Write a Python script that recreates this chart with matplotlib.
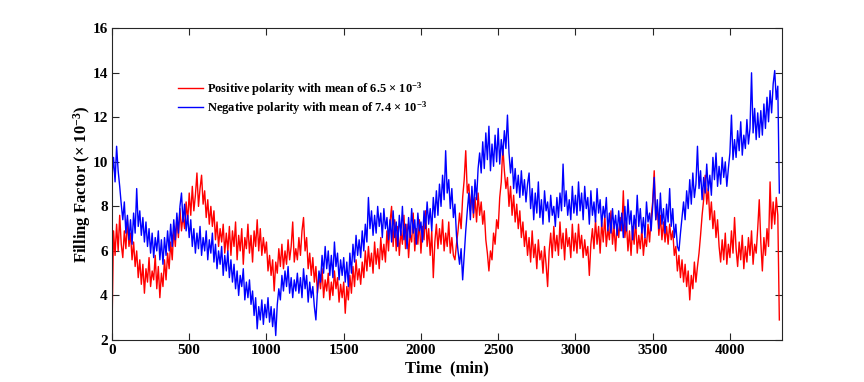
import numpy as np
import matplotlib
matplotlib.use("Agg")
import matplotlib.pyplot as plt

plt.rcParams['font.family'] = ['Liberation Serif', 'DejaVu Serif']
plt.rcParams['font.weight'] = 'bold'
plt.rcParams['mathtext.fontset'] = 'custom'
plt.rcParams['mathtext.rm'] = 'Liberation Serif:bold'
plt.rcParams['mathtext.it'] = 'Liberation Serif:bold'
plt.rcParams['mathtext.bf'] = 'Liberation Serif:bold'

step_min = 10  # sampling interval of the read-off values (min)

positive = [
    2.4, 6.9, 5.8, 7.2, 6.0, 7.6, 6.3, 5.7, 6.9, 6.1, 7.4, 6.2, 6.8, 5.6, 6.4, 5.3, 6.0, 4.8, 5.6, 4.5, 5.4, 4.1, 5.2, 4.6, 5.7, 4.4, 5.1, 4.7, 5.8, 4.3,
    5.3, 3.9, 5.0, 4.4, 5.6, 4.7, 5.9, 5.2, 6.4, 5.6, 7.0, 6.2, 7.5, 6.6, 7.9, 6.9, 7.6, 7.0, 8.2, 7.3, 8.6, 7.6, 8.9, 7.8, 8.5, 9.5, 8.0, 8.8, 9.4, 8.1,
    8.7, 7.5, 8.3, 7.2, 8.0, 7.1, 7.8, 6.5, 7.3, 6.2, 7.0, 6.4, 7.2, 5.9, 6.8, 6.0, 7.1, 5.8, 6.9, 6.2, 7.3, 5.6, 6.7, 6.0, 7.0, 5.4, 6.6, 6.1, 7.2, 5.9,
    6.7, 5.5, 6.9, 6.2, 7.4, 6.0, 7.0, 5.8, 6.6, 5.9, 6.4, 5.1, 5.8, 4.9, 5.6, 4.2, 5.5, 5.0, 6.1, 5.3, 6.3, 5.2, 6.0, 5.4, 6.5, 5.6, 6.2, 7.3, 5.5, 6.1,
    5.6, 6.6, 5.8, 6.9, 7.5, 6.0, 6.6, 5.2, 5.9, 4.9, 5.7, 4.6, 5.3, 4.1, 4.9, 4.3, 5.2, 3.9, 4.7, 4.2, 5.0, 3.8, 4.6, 4.0, 5.1, 4.3, 4.8, 3.7, 4.5, 3.9,
    4.6, 3.2, 4.4, 3.8, 4.9, 4.1, 5.3, 4.4, 5.6, 4.7, 5.2, 4.5, 5.5, 4.8, 6.0, 5.1, 6.2, 5.3, 5.9, 5.0, 6.4, 5.4, 6.1, 5.2, 6.6, 5.6, 6.3, 5.5, 6.9, 6.0,
    7.3, 8.0, 6.2, 7.4, 6.0, 7.1, 5.8, 6.9, 6.3, 7.6, 6.1, 7.2, 5.7, 6.8, 6.4, 7.7, 6.0, 7.0, 6.3, 7.4, 5.9, 7.1, 6.5, 7.8, 6.2, 7.0, 5.8, 6.9, 4.8, 6.4,
    7.2, 6.1, 7.0, 6.3, 7.4, 6.0, 6.8, 6.2, 7.3, 5.9, 6.6, 5.8, 5.6, 6.3, 6.9, 7.7, 7.0, 8.4, 9.2, 10.5, 8.6, 9.0, 7.8, 8.7, 7.5, 8.4, 7.3, 8.6, 7.6, 8.2,
    7.2, 7.8, 6.5, 5.9, 5.1, 6.0, 5.6, 6.8, 6.3, 7.4, 7.0, 8.4, 9.1, 10.7, 9.6, 8.8, 9.3, 8.0, 8.9, 7.6, 8.5, 7.3, 8.1, 7.0, 7.8, 6.6, 7.3, 6.2, 6.9, 5.8,
    6.6, 5.5, 6.9, 5.7, 6.3, 5.2, 6.5, 5.6, 6.0, 5.0, 6.2, 5.4, 4.4, 6.0, 6.8, 5.7, 7.1, 6.0, 6.7, 5.8, 7.3, 6.1, 6.8, 5.6, 7.0, 6.2, 6.6, 5.7, 7.2, 6.0,
    6.8, 5.9, 7.2, 6.1, 6.7, 5.7, 6.5, 5.8, 6.2, 4.9, 6.3, 7.0, 6.1, 7.4, 6.3, 7.1, 5.9, 7.3, 6.4, 7.6, 6.2, 7.0, 6.5, 7.8, 6.3, 7.1, 6.0, 7.2, 6.6, 7.5,
    6.9, 8.7, 6.6, 7.3, 6.0, 6.9, 5.8, 7.1, 6.3, 7.4, 5.9, 6.7, 6.1, 7.0, 5.8, 6.6, 6.2, 7.2, 6.4, 7.5, 8.2, 9.6, 7.4, 8.0, 6.7, 7.6, 6.5, 7.3, 6.4, 7.1,
    6.3, 7.2, 6.5, 6.9, 5.8, 6.2, 5.1, 5.8, 4.8, 5.6, 4.6, 5.4, 4.4, 5.1, 3.8, 4.9, 4.3, 5.5, 4.6, 5.3, 5.9, 6.7, 7.6, 8.3, 9.4, 8.1, 8.8, 7.4, 8.2, 7.0,
    7.8, 6.6, 7.4, 6.2, 5.5, 6.5, 5.6, 6.8, 5.4, 6.3, 5.7, 6.9, 5.9, 7.5, 6.1, 5.3, 6.4, 5.6, 6.7, 5.2, 6.2, 5.5, 6.6, 5.8, 6.9, 5.4, 6.3, 5.9, 7.0, 8.3,
    6.4, 5.1, 6.6, 5.8, 7.0, 6.2, 9.1, 7.0, 8.2, 7.2, 8.4, 7.6, 2.9,
]

negative = [
    9.3, 10.2, 9.1, 10.7, 9.6, 8.9, 8.1, 7.4, 8.2, 6.8, 7.6, 6.5, 7.4, 6.3, 7.7, 6.8, 8.8, 7.1, 7.8, 6.7, 7.5, 6.4, 7.3, 6.2, 7.0, 5.9, 6.8, 5.7, 6.6, 6.0,
    6.9, 5.6, 6.5, 5.4, 6.6, 5.8, 6.9, 6.0, 7.2, 6.2, 7.4, 6.5, 7.7, 6.8, 8.0, 8.6, 7.3, 8.1, 6.9, 7.6, 6.6, 7.4, 6.2, 7.0, 5.9, 6.8, 6.1, 7.1, 5.8, 6.6,
    6.0, 6.9, 5.6, 6.5, 5.9, 6.8, 5.5, 6.3, 5.2, 6.0, 5.4, 6.2, 4.9, 5.8, 5.1, 6.0, 4.8, 5.6, 4.6, 5.4, 4.3, 5.1, 4.0, 4.9, 4.4, 5.2, 3.8, 4.6, 3.9, 4.7,
    3.6, 4.2, 3.1, 3.9, 2.5, 3.5, 2.9, 3.8, 2.7, 3.6, 3.0, 3.9, 2.8, 3.5, 2.6, 3.4, 2.2, 3.6, 4.3, 3.8, 4.9, 4.2, 5.1, 4.4, 5.3, 4.1, 4.8, 3.9, 4.7, 4.2,
    5.0, 4.1, 4.8, 3.9, 5.2, 4.3, 4.9, 3.7, 4.6, 3.9, 4.4, 3.5, 2.9, 4.2, 5.1, 4.6, 5.8, 5.0, 6.2, 5.2, 6.0, 4.9, 5.8, 4.8, 6.4, 5.3, 5.9, 4.7, 5.6, 4.9,
    5.7, 4.6, 5.5, 4.4, 5.9, 5.0, 6.3, 5.5, 6.7, 5.8, 6.5, 5.7, 6.9, 6.0, 7.2, 6.4, 8.4, 7.0, 7.8, 6.7, 7.6, 6.8, 8.0, 7.1, 7.7, 6.6, 7.9, 7.0, 7.5, 6.5,
    7.4, 6.4, 7.8, 6.6, 7.3, 6.2, 7.6, 6.7, 8.0, 6.5, 7.2, 6.1, 7.5, 6.6, 7.9, 6.8, 7.4, 6.3, 7.7, 6.9, 7.3, 6.4, 7.8, 7.0, 8.2, 7.2, 7.9, 6.9, 8.4, 7.5,
    8.7, 7.6, 9.0, 8.0, 9.4, 8.3, 10.5, 8.6, 9.2, 7.9, 8.8, 7.5, 8.1, 6.7, 6.0, 5.4, 6.1, 4.7, 5.8, 6.9, 7.8, 8.6, 7.4, 8.9, 7.7, 9.2, 8.3, 9.7, 10.4, 9.5,
    10.9, 9.7, 11.3, 10.1, 11.6, 9.6, 10.8, 9.8, 11.2, 10.0, 11.5, 9.9, 11.0, 10.3, 11.4, 10.6, 12.1, 10.4, 9.5, 10.2, 8.8, 9.7, 8.6, 9.4, 8.4, 9.6, 8.5, 9.2, 8.2, 9.0,
    9.5, 7.9, 8.8, 7.4, 8.6, 7.7, 9.1, 7.5, 8.3, 7.2, 8.7, 7.8, 8.2, 7.3, 8.5, 7.6, 8.0, 7.1, 8.4, 7.5, 8.6, 7.8, 9.9, 8.0, 8.7, 7.6, 8.3, 7.4, 8.9, 7.7,
    8.5, 7.6, 9.1, 7.8, 8.6, 7.4, 8.9, 7.9, 8.4, 7.2, 8.7, 7.6, 8.2, 7.3, 8.8, 7.7, 8.3, 7.1, 8.0, 7.5, 8.4, 6.9, 7.7, 6.8, 7.9, 7.0, 7.6, 6.7, 7.8, 6.9,
    7.7, 6.6, 8.0, 6.9, 8.3, 7.2, 7.8, 6.5, 7.6, 7.0, 8.5, 7.1, 7.9, 6.8, 7.5, 6.6, 8.2, 7.3, 7.7, 6.9, 8.0, 9.3, 7.4, 8.3, 7.0, 8.6, 7.2, 7.9, 6.8, 8.1,
    7.3, 8.8, 7.1, 7.9, 6.6, 7.2, 6.2, 6.0, 6.8, 7.5, 8.2, 7.4, 8.7, 7.9, 9.2, 8.1, 9.5, 8.4, 9.0, 10.7, 8.8, 9.6, 8.3, 9.3, 8.6, 9.9, 8.7, 9.4, 8.5, 10.2,
    9.2, 10.4, 8.9, 9.8, 9.0, 10.2, 9.3, 10.0, 8.9, 9.7, 10.4, 12.1, 10.1, 11.0, 10.2, 11.4, 10.5, 11.8, 10.3, 11.2, 10.6, 11.9, 10.8, 11.5, 14.0, 11.3, 12.4, 11.0, 12.2, 11.1,
    12.3, 11.2, 12.6, 11.5, 12.9, 11.8, 13.2, 12.2, 13.5, 14.1, 12.8, 13.4, 8.6,
]

pos_label = r'Positive polarity with mean of 6.5 $\times$ 10$^{-3}$'
neg_label = r'Negative polarity with mean of 7.4 $\times$ 10$^{-3}$'
x_label = 'Time  (min)'
y_label = r'Filling Factor ($\times$ 10$^{-3}$)'
x_ticks = [0, 500, 1000, 1500, 2000, 2500, 3000, 3500, 4000]
y_ticks = [2, 4, 6, 8, 10, 12, 14, 16]

t_pos = np.arange(len(positive)) * step_min
t_neg = np.arange(len(negative)) * step_min

fig = plt.figure(figsize=(8.64, 3.82), dpi=100)
ax = fig.add_axes([0.1296, 0.110, 0.7751, 0.816])

ax.plot(t_pos, positive, color='#ff0000', lw=1.0, label=pos_label)
ax.plot(t_neg, negative, color='#0000ff', lw=1.0, label=neg_label)

ax.set_xlim(0, 4335)
ax.set_ylim(2, 16)
ax.set_xticks(x_ticks)
ax.set_yticks(y_ticks)
ax.tick_params(direction='in', top=True, right=True, length=5, width=0.8,
               labelsize=11, colors='#262626', pad=3)
for lab in ax.get_xticklabels() + ax.get_yticklabels():
    lab.set_fontweight('bold')
    lab.set_color('black')
for sp in ax.spines.values():
    sp.set_color('#262626')
    sp.set_linewidth(0.8)

ax.set_xlabel(x_label, fontsize=12, fontweight='bold', labelpad=2)
ax.set_ylabel(y_label, fontsize=12, fontweight='bold')
ax.yaxis.set_label_coords(-0.028, 0.5)

leg = ax.legend(loc='upper left', bbox_to_anchor=(0.091, 0.85), frameon=False,
                fontsize=9, handlelength=2.0, handletextpad=0.3, labelspacing=0.12,
                borderaxespad=0)
for txt in leg.get_texts():
    txt.set_fontweight('bold')

fig.savefig('out.png', dpi=100)
